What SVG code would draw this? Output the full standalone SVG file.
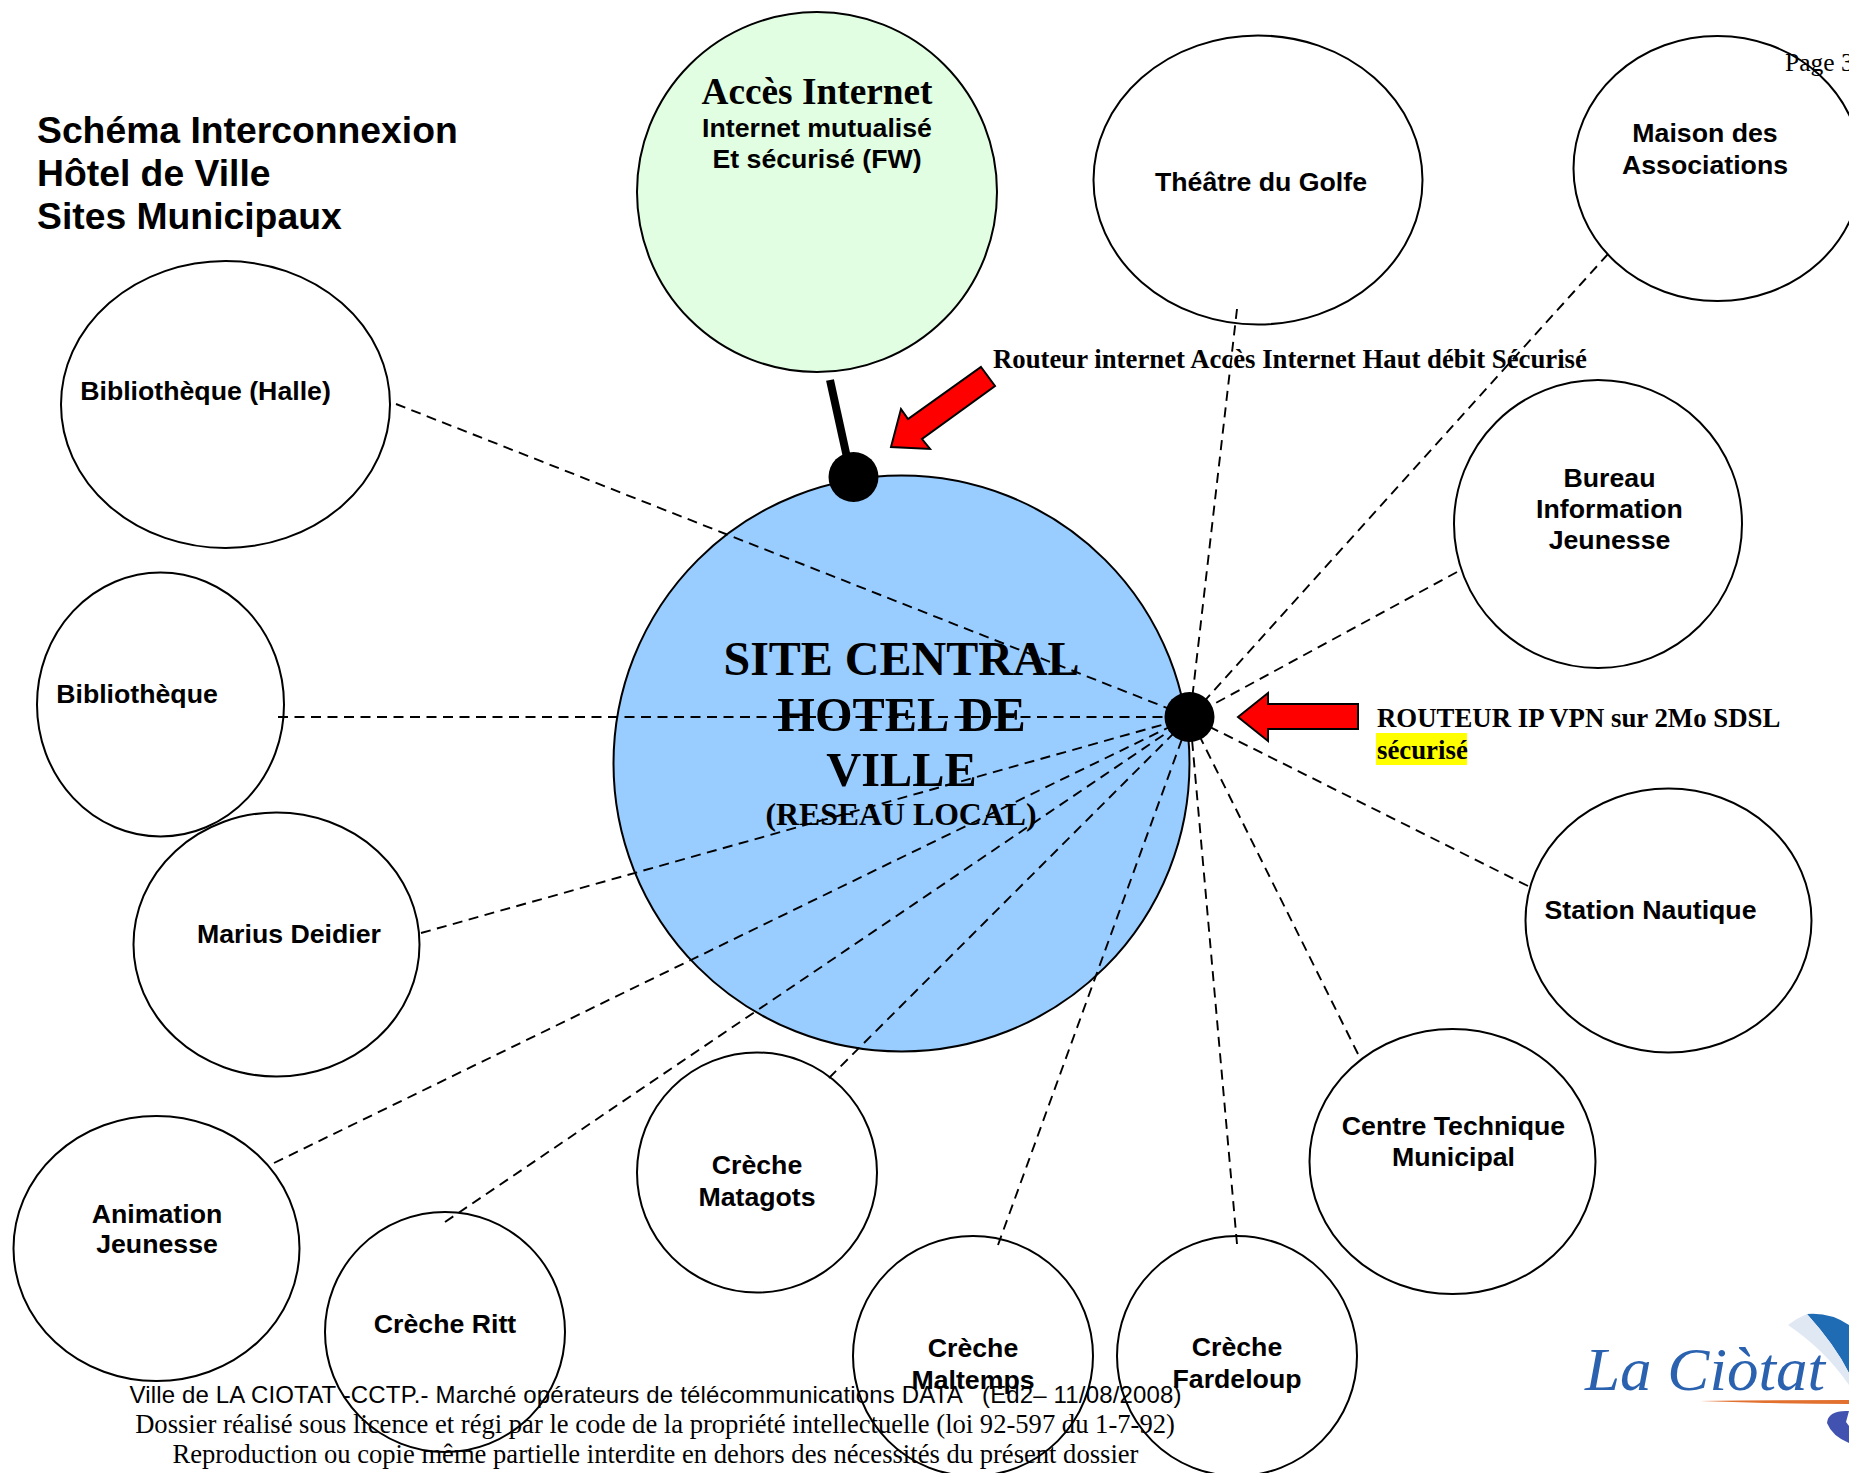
<svg xmlns="http://www.w3.org/2000/svg" width="1849" height="1473" viewBox="0 0 1849 1473">
<style>
.n{fill:#fff;stroke:#000;stroke-width:2}
.l{font:bold 26.7px "Liberation Sans",Arial,sans-serif;text-anchor:middle;fill:#000}
.s{font-family:"Liberation Serif","Times New Roman",serif;font-weight:bold;fill:#000}
.t{font:bold 37.3px "Liberation Sans",Arial,sans-serif;fill:#000}
.f{font-size:26.6px;fill:#000;text-anchor:middle}
.c line{stroke:#000;stroke-width:1.9;stroke-dasharray:10 6.5;fill:none}
.a{fill:#f00;stroke:#000;stroke-width:2}
</style>
<rect width="1849" height="1473" fill="#fff"/>
<g id="site-central"><circle cx="901.5" cy="763.5" r="288" fill="#99ccff" stroke="#000" stroke-width="2"/></g>
<g id="acces-internet"><circle cx="817" cy="192" r="180" fill="#e2fee2" stroke="#000" stroke-width="2"/></g>
<g id="theatre"><ellipse class="n" cx="1258" cy="180" rx="164.500" ry="144.500"/></g>
<g id="maison"><ellipse class="n" cx="1717.500" cy="168.500" rx="144" ry="132.500"/></g>
<g id="halle"><ellipse class="n" cx="225.500" cy="404.500" rx="164.500" ry="143.500"/></g>
<g id="bibliotheque"><ellipse class="n" cx="160.500" cy="704.500" rx="123.500" ry="132"/></g>
<g id="marius"><ellipse class="n" cx="276.500" cy="944.500" rx="143" ry="132"/></g>
<g id="animation"><ellipse class="n" cx="156.500" cy="1248.500" rx="143" ry="132.500"/></g>
<g id="ritt"><circle class="n" cx="445" cy="1332" r="120"/></g>
<g id="matagots"><circle class="n" cx="757" cy="1172.500" r="120"/></g>
<g id="maltemps"><circle class="n" cx="973" cy="1356" r="120"/></g>
<g id="fardeloup"><circle class="n" cx="1237" cy="1356" r="120"/></g>
<g id="centre"><ellipse class="n" cx="1452.500" cy="1161.500" rx="143" ry="132.500"/></g>
<g id="station"><ellipse class="n" cx="1668.500" cy="920.500" rx="143" ry="132"/></g>
<g id="bureau"><circle class="n" cx="1598" cy="524" r="144"/></g>
<g class="c" id="connectors">
<line x1="396" y1="404" x2="1190" y2="717"/>
<line x1="278" y1="717" x2="1190" y2="717"/>
<line x1="421" y1="933" x2="1190" y2="717"/>
<line x1="274" y1="1163" x2="1190" y2="717"/>
<line x1="445" y1="1222" x2="1190" y2="717"/>
<line x1="829" y1="1078" x2="1190" y2="717"/>
<line x1="998" y1="1245" x2="1190" y2="717"/>
<line x1="1237" y1="1244" x2="1190" y2="717"/>
<line x1="1358" y1="1054" x2="1190" y2="717"/>
<line x1="1528" y1="886" x2="1190" y2="717"/>
<line x1="1457" y1="572" x2="1190" y2="717"/>
<line x1="1608" y1="254" x2="1190" y2="717"/>
<line x1="1237" y1="309" x2="1190" y2="717"/>
<line x1="830" y1="380" x2="848" y2="462" style="stroke-width:8;stroke-dasharray:none"/>
</g>
<g id="routeur-vpn"><circle cx="1189.500" cy="717" r="25"/></g>
<g id="routeur-internet"><circle cx="853.500" cy="477" r="25"/></g>
<polygon class="a" points="981,367 995,386 922,439 930,449 891,447 901,409 908,419"/>
<polygon class="a" points="1238,717 1268,693 1268,704 1358,704 1358,729 1268,729 1268,741"/>
<text class="t" x="37" y="143">Schéma Interconnexion</text>
<text class="t" x="37" y="186">Hôtel de Ville</text>
<text class="t" x="37" y="229">Sites Municipaux</text>
<text class="s" x="817" y="103.500" font-size="37.300" text-anchor="middle">Accès Internet</text>
<text class="l" x="817" y="136.500">Internet mutualisé</text>
<text class="l" x="817" y="167.500">Et sécurisé (FW)</text>
<text class="l" x="1261" y="190.500">Théâtre du Golfe</text>
<text class="l" x="1705" y="141.500">Maison des</text>
<text class="l" x="1705" y="173.500">Associations</text>
<text class="l" x="205.500" y="399.500">Bibliothèque (Halle)</text>
<text class="l" x="137" y="702.500">Bibliothèque</text>
<text class="l" x="289" y="943">Marius Deidier</text>
<text class="l" x="157" y="1222.500">Animation</text>
<text class="l" x="157" y="1253">Jeunesse</text>
<text class="l" x="445" y="1333">Crèche Ritt</text>
<text class="l" x="757" y="1174">Crèche</text>
<text class="l" x="757" y="1205.500">Matagots</text>
<text class="l" x="973" y="1357">Crèche</text>
<text class="l" x="973" y="1389">Maltemps</text>
<text class="l" x="1237" y="1356">Crèche</text>
<text class="l" x="1237" y="1388">Fardeloup</text>
<text class="l" x="1453.500" y="1135">Centre Technique</text>
<text class="l" x="1453.500" y="1166">Municipal</text>
<text class="l" x="1650.500" y="919">Station Nautique</text>
<text class="l" x="1609.500" y="486.500">Bureau</text>
<text class="l" x="1609.500" y="517.500">Information</text>
<text class="l" x="1609.500" y="548.500">Jeunesse</text>
<text class="s" x="901.500" y="674.500" font-size="48" text-anchor="middle">SITE CENTRAL</text>
<text class="s" x="901.500" y="730.500" font-size="48.300" text-anchor="middle">HOTEL DE</text>
<text class="s" x="901.500" y="785.500" font-size="48.300" text-anchor="middle">VILLE</text>
<text class="s" x="901" y="825" font-size="31.800" text-anchor="middle">(RESEAU LOCAL)</text>
<text class="s" x="993" y="368" font-size="26.750">Routeur internet Accès Internet Haut débit Sécurisé</text>
<text class="s" x="1377" y="727" font-size="26.800">ROUTEUR IP VPN sur 2Mo SDSL</text>
<rect x="1376" y="733" width="91" height="32" fill="#ff0"/>
<text class="s" x="1377" y="759" font-size="26.800">sécurisé</text>
<text x="1785" y="71" font-size="25.500" font-family="Liberation Serif,serif">Page 3</text>
<g id="logo">
<text x="1585" y="1390" font-family="Liberation Serif,serif" font-style="italic" font-size="62" fill="#2a62b0" textLength="240" lengthAdjust="spacingAndGlyphs">La Ciòtat</text>
<path d="M1807 1314Q1830 1312 1849 1325V1373Q1835 1345 1807 1314Z" fill="#1f6cb5"/>
<path d="M1788 1325Q1797 1318 1807 1314Q1835 1345 1849 1373V1385Q1825 1350 1788 1325Z" fill="#dfe8f3"/>
<path d="M1700 1401Q1780 1400 1849 1400V1404Q1780 1404 1700 1401Z" fill="#e2702f"/>
<path d="M1849 1411Q1828 1410 1827 1423Q1832 1436 1849 1443V1426L1846 1422Z" fill="#4252b0"/>
</g>
<g id="footer" font-family="Liberation Serif,serif">
<text class="f" x="655.500" y="1403" style="font-family:'Liberation Sans',sans-serif;font-size:24px" textLength="1052" lengthAdjust="spacing" xml:space="preserve">Ville de LA CIOTAT -CCTP.- Marché opérateurs de télécommunications DATA   (Ed2– 11/08/2008)</text>
<text class="f" x="655" y="1433">Dossier réalisé sous licence et régi par le code de la propriété intellectuelle (loi 92-597 du 1-7-92)</text>
<text class="f" x="655.500" y="1463">Reproduction ou copie même partielle interdite en dehors des nécessités du présent dossier</text>
</g>
</svg>
